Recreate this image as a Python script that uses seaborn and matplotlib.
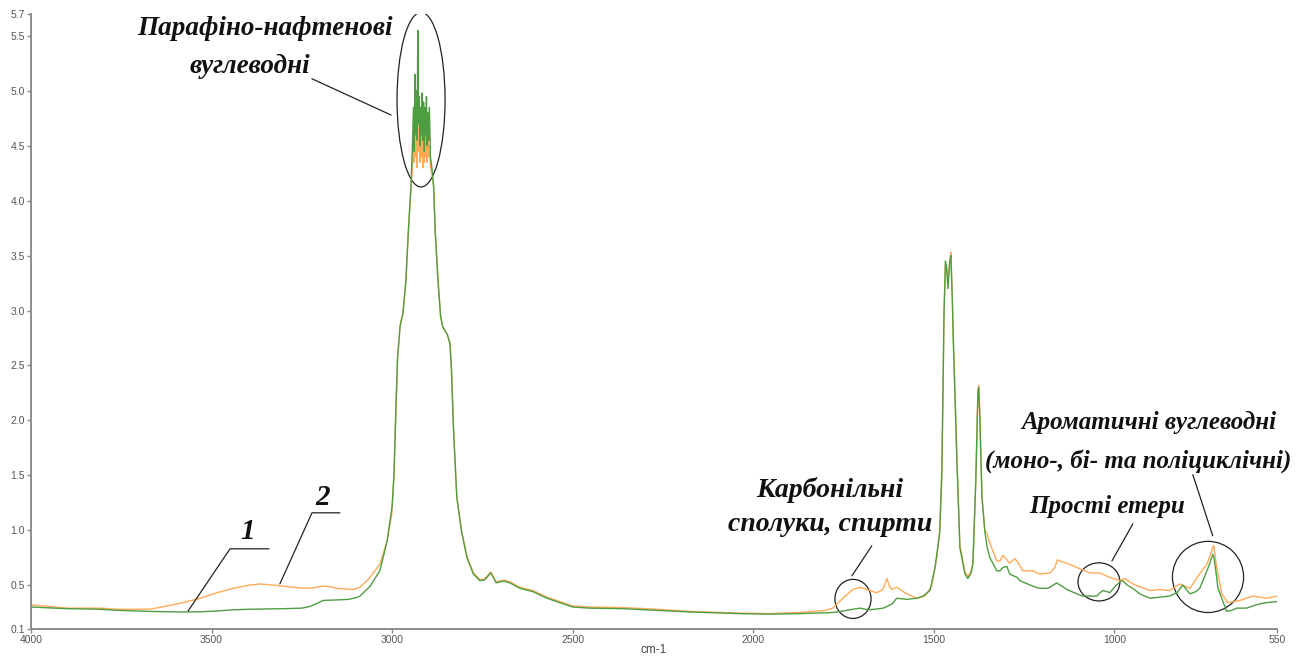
import matplotlib
matplotlib.use("Agg")
import matplotlib.pyplot as plt
from matplotlib.patches import Ellipse
import pandas as pd
import seaborn as sns

# IR spectra: wavenumber (cm-1) and absorbance for the two samples
wn_1 = [4000, 3900, 3809, 3762, 3671, 3580, 3530, 3480, 3440, 3394, 3300, 3250, 3228, 3200,
        3192, 3150, 3120, 3100, 3089, 3061, 3034, 3014, 3000, 2995, 2990, 2985, 2978, 2970,
        2962, 2955, 2948, 2944, 2941, 2939, 2937, 2935, 2933, 2931, 2929, 2927, 2925, 2923,
        2921, 2919, 2917, 2915, 2913, 2911, 2909, 2907, 2905, 2903, 2901, 2899, 2897, 2894,
        2890, 2885, 2881, 2873, 2866, 2860, 2847, 2840, 2836, 2830, 2821, 2808, 2793, 2775,
        2757, 2745, 2735, 2727, 2720, 2712, 2700, 2690, 2674, 2646, 2610, 2571, 2536, 2500,
        2452, 2361, 2267, 2176, 2037, 1960, 1871, 1780, 1750, 1733, 1705, 1690, 1677, 1640,
        1630, 1615, 1603, 1590, 1575, 1547, 1530, 1511, 1497, 1484, 1478, 1475, 1472, 1468,
        1465, 1461, 1456, 1453, 1449, 1447, 1436, 1428, 1414, 1406, 1398, 1392, 1384, 1378,
        1376, 1373, 1367, 1359, 1353, 1345, 1326, 1317, 1309, 1298, 1290, 1270, 1262, 1226,
        1207, 1187, 1179, 1160, 1150, 1132, 1104, 1088, 1068, 1049, 1040, 1032, 1020, 1013,
        1000, 985, 977, 965, 949, 930, 902, 874, 847, 827, 811, 791, 775, 764, 744, 736, 728,
        725, 717, 714, 701, 689, 675, 661, 634, 617, 597, 578, 550]
abs_1 = [0.30, 0.285, 0.28, 0.27, 0.26, 0.255, 0.257, 0.265, 0.275, 0.28, 0.285, 0.29, 0.305, 0.345,
         0.36, 0.365, 0.37, 0.385, 0.40, 0.49, 0.63, 0.90, 1.22, 1.5, 2.06, 2.57, 2.86, 2.98,
         3.27, 3.73, 4.12, 4.5, 4.85, 4.45, 5.15, 4.6, 5.0, 4.55, 5.55, 4.7, 4.95, 4.5,
         4.85, 4.6, 4.98, 4.55, 4.9, 4.45, 4.85, 4.6, 4.95, 4.5, 4.8, 4.55, 4.85, 4.4,
         4.3, 4.12, 3.73, 3.27, 2.95, 2.85, 2.78, 2.70, 2.48, 1.91, 1.30, 0.99, 0.75, 0.60,
         0.54, 0.545, 0.58, 0.61, 0.57, 0.52, 0.53, 0.535, 0.52, 0.47, 0.44, 0.38, 0.34, 0.30,
         0.29, 0.285, 0.27, 0.255, 0.24, 0.235, 0.24, 0.25, 0.265, 0.275, 0.29, 0.28, 0.275, 0.29,
         0.305, 0.33, 0.38, 0.375, 0.37, 0.38, 0.40, 0.45, 0.66, 0.97, 1.5, 2.21, 2.97, 3.45,
         3.40, 3.20, 3.45, 3.50, 3.1, 2.82, 1.61, 0.84, 0.60, 0.56, 0.60, 0.69, 1.45, 2.27,
         2.30, 2.06, 1.30, 0.99, 0.85, 0.75, 0.63, 0.63, 0.66, 0.67, 0.60, 0.57, 0.54, 0.49,
         0.47, 0.47, 0.48, 0.52, 0.50, 0.46, 0.42, 0.40, 0.40, 0.40, 0.43, 0.45, 0.44, 0.43,
         0.48, 0.53, 0.54, 0.50, 0.47, 0.42, 0.38, 0.39, 0.40, 0.43, 0.50, 0.42, 0.44, 0.47, 0.63, 0.70, 0.78,
         0.76, 0.57, 0.48, 0.36, 0.26, 0.27, 0.29, 0.29, 0.31, 0.33, 0.34, 0.35]

wn_2 = [4000, 3900, 3809, 3762, 3671, 3623, 3579, 3532, 3485, 3441, 3394, 3366, 3330, 3302,
        3260, 3228, 3192, 3170, 3153, 3109, 3089, 3061, 3034, 3014, 3001, 2995, 2990, 2985,
        2978, 2970, 2962, 2955, 2948, 2944, 2941, 2939, 2937, 2935, 2933, 2931, 2929, 2927,
        2925, 2923, 2921, 2919, 2917, 2915, 2913, 2911, 2909, 2907, 2905, 2903, 2901, 2899,
        2897, 2894, 2890, 2885, 2881, 2873, 2866, 2860, 2847, 2840, 2836, 2830, 2821, 2808,
        2793, 2775, 2757, 2745, 2735, 2727, 2720, 2712, 2700, 2690, 2674, 2646, 2610, 2571,
        2536, 2500, 2452, 2361, 2267, 2176, 2037, 1960, 1871, 1800, 1780, 1752, 1724, 1705,
        1686, 1658, 1641, 1630, 1622, 1616, 1603, 1575, 1547, 1525, 1506, 1492, 1484, 1478,
        1475, 1472, 1468, 1465, 1461, 1456, 1453, 1449, 1447, 1436, 1428, 1414, 1406, 1398,
        1392, 1384, 1378, 1376, 1373, 1367, 1359, 1353, 1345, 1326, 1317, 1309, 1290, 1276,
        1270, 1254, 1226, 1207, 1179, 1165, 1158, 1145, 1132, 1104, 1068, 1040, 1013, 985,
        972, 949, 902, 874, 847, 819, 791, 769, 744, 728, 725, 717, 703, 686, 653, 617, 578, 550]
abs_2 = [0.32, 0.29, 0.29, 0.28, 0.28, 0.31, 0.34, 0.38, 0.43, 0.47, 0.50, 0.51, 0.50, 0.49,
         0.475, 0.47, 0.49, 0.485, 0.47, 0.46, 0.48, 0.57, 0.69, 0.90, 1.15, 1.5, 2.06, 2.57,
         2.86, 2.98, 3.27, 3.73, 4.12, 4.3, 4.6, 4.35, 4.7, 4.4, 4.65, 4.3, 4.75, 4.45,
         4.6, 4.35, 4.55, 4.4, 4.62, 4.3, 4.55, 4.35, 4.6, 4.4, 4.7, 4.35, 4.55, 4.4,
         4.5, 4.3, 4.25, 4.12, 3.73, 3.27, 2.95, 2.85, 2.78, 2.70, 2.48, 1.91, 1.30, 1.0,
         0.76, 0.61, 0.55, 0.555, 0.59, 0.62, 0.58, 0.53, 0.54, 0.545, 0.53, 0.48, 0.45, 0.39,
         0.35, 0.31, 0.30, 0.295, 0.28, 0.26, 0.245, 0.24, 0.25, 0.27, 0.29, 0.38, 0.46, 0.48,
         0.46, 0.43, 0.46, 0.56, 0.48, 0.46, 0.48, 0.42, 0.38, 0.40, 0.49, 0.75, 1.0, 1.6,
         2.21, 2.97, 3.42, 3.38, 3.28, 3.45, 3.53, 3.12, 2.82, 1.61, 0.86, 0.62, 0.58, 0.62,
         0.70, 1.45, 2.27, 2.32, 2.06, 1.32, 1.0, 0.97, 0.88, 0.72, 0.72, 0.77, 0.70, 0.74,
         0.72, 0.63, 0.63, 0.60, 0.61, 0.66, 0.73, 0.71, 0.70, 0.66, 0.61, 0.61, 0.57, 0.54,
         0.56, 0.51, 0.45, 0.46, 0.45, 0.51, 0.47, 0.58, 0.69, 0.84, 0.86, 0.66, 0.42, 0.34, 0.36, 0.40, 0.38, 0.40]

sample_names = ["1", "2"]
x_ticks = [4000, 3500, 3000, 2500, 2000, 1500, 1000, 550]
y_ticks = [0.1, 0.5, 1.0, 1.5, 2.0, 2.5, 3.0, 3.5, 4.0, 4.5, 5.0, 5.5, 5.7]

spectra = pd.concat([
    pd.DataFrame({"wn": wn_2, "A": abs_2, "sample": sample_names[1]}),
    pd.DataFrame({"wn": wn_1, "A": abs_1, "sample": sample_names[0]}),
], ignore_index=True)

sns.set_style("ticks")
plt.rcParams["font.family"] = ["Liberation Sans", "DejaVu Sans"]

fig = plt.figure(figsize=(13.06, 6.57), dpi=100)
ax = fig.add_axes([31 / 1306, 28 / 657, 1246 / 1306, 615 / 657])

palette = {"2": "#ffab57", "1": "#4f9d43"}
sns.lineplot(data=spectra, x="wn", y="A", hue="sample", hue_order=["2", "1"],
             palette=palette, estimator=None, sort=False, linewidth=1.0,
             legend=False, ax=ax)

ax.set_xlim(4000, 550)
ax.set_ylim(0.1, 5.7)
ax.set_xticks(x_ticks)
ax.set_xticklabels([str(t) for t in x_ticks])
ax.set_yticks(y_ticks)
ax.set_yticklabels([f"{t:.1f}" for t in y_ticks])
ax.tick_params(axis="both", labelsize=7.5, labelcolor="#555555", color="#888888",
               length=3, width=1, pad=1.5)
for side in ("top", "right"):
    ax.spines[side].set_visible(False)
for side in ("left", "bottom"):
    ax.spines[side].set_color("#8c8c8c")
    ax.spines[side].set_linewidth(1.4)
ax.set_xlabel("cm-1", fontsize=8.5, color="#444444", labelpad=-1)
ax.set_ylabel("")

# annotation styling
note_font = dict(family=["Liberation Serif", "DejaVu Serif"], weight="bold",
                 style="italic", color="#111111", ha="center", va="center")
line_kw = dict(color="#222222", lw=0.9)

# paraffin-naphthenic band
ax.text(3352, 5.57, "Парафіно-нафтенові", fontsize=19.5, **note_font)
ax.text(3394, 5.22, "вуглеводні", fontsize=19.5, **note_font)
ax.add_patch(Ellipse((2920, 4.92), 133, 1.59, fill=False, **line_kw))
ax.plot([3222, 3003], [5.11, 4.78], **line_kw)

# carbonyl compounds / alcohols
ax.text(1788, 1.37, "Карбонільні", fontsize=20, **note_font)
ax.text(1788, 1.05, "сполуки, спирти", fontsize=20, **note_font)
ax.add_patch(Ellipse((1724, 0.374), 100, 0.356, fill=False, **line_kw))
ax.plot([1672, 1727], [0.857, 0.584], **line_kw)

# simple ethers
ax.text(1021, 1.22, "Прості етери", fontsize=18, **note_font)
ax.add_patch(Ellipse((1043, 0.529), 116, 0.347, fill=False, **line_kw))
ax.plot([949, 1007], [1.058, 0.720], **line_kw)

# aromatic hydrocarbons
ax.text(905, 1.98, "Ароматичні вуглеводні", fontsize=18, **note_font)
ax.text(935, 1.63, "(моно-, бі- та поліциклічні)", fontsize=18, **note_font)
ax.add_patch(Ellipse((741, 0.574), 197, 0.648, fill=False, **line_kw))
ax.plot([783, 728], [1.505, 0.949], **line_kw)

# sample labels
ax.text(3399, 0.99, "1", fontsize=21, **note_font)
ax.plot([3341, 3449, 3565], [0.83, 0.83, 0.264], **line_kw)
ax.text(3192, 1.30, "2", fontsize=21, **note_font)
ax.plot([3145, 3222, 3311], [1.158, 1.158, 0.51], **line_kw)

fig.savefig("out.png", dpi=100, facecolor="white")
